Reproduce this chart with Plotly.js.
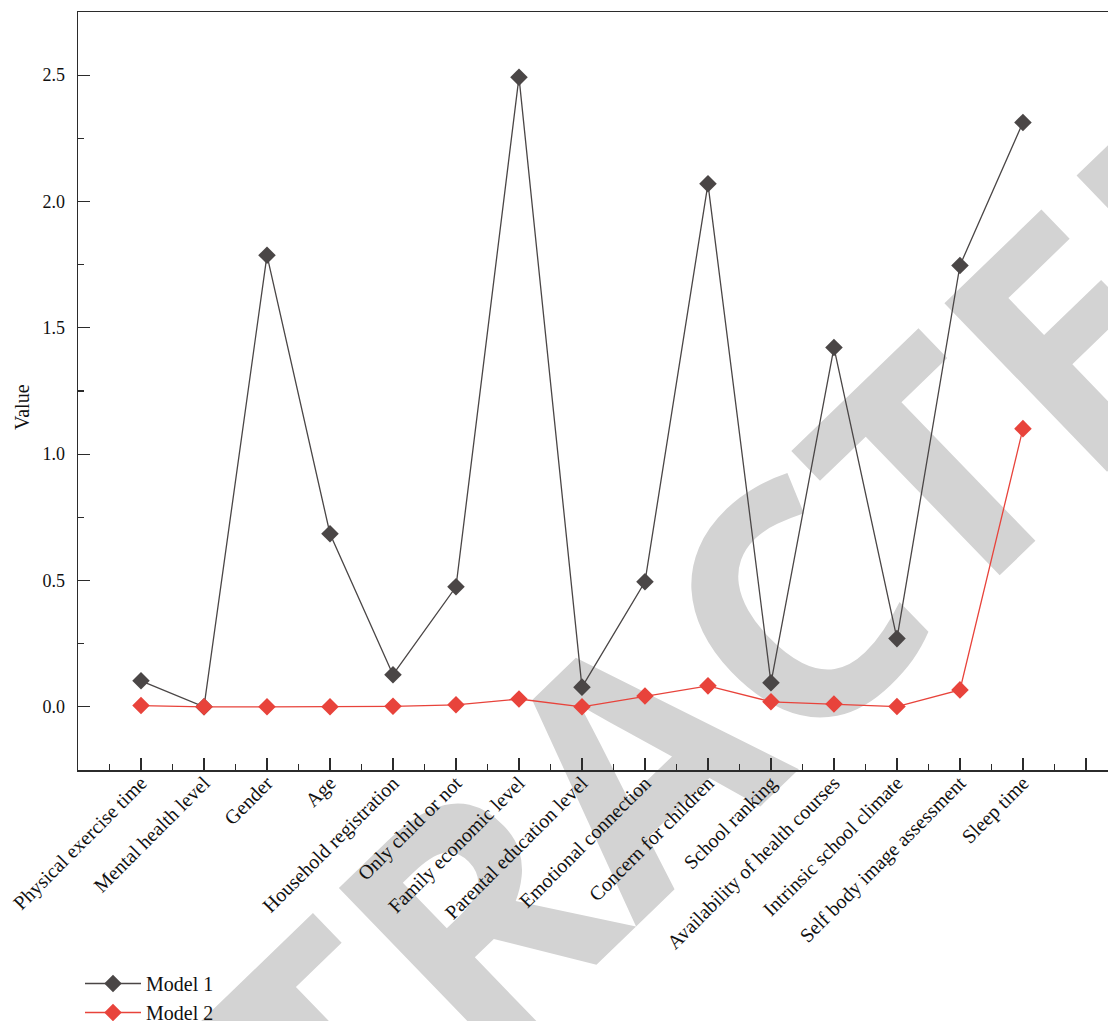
<!DOCTYPE html>
<html>
<head>
<meta charset="utf-8">
<script src="https://cdn.plot.ly/plotly-3.0.1.min.js"></script>
<style>
  html, body { margin: 0; padding: 0; background: #ffffff; }
  #wrap { position: relative; width: 1108px; height: 1021px; overflow: hidden; background: #ffffff; }
  #wm {
    position: absolute; left: 636px; top: 750px;
    transform: translate(-50%, -50%) rotate(-44deg);
    font-family: "Open Sans", "Liberation Sans", sans-serif; font-weight: 700;
    font-size: 328px; line-height: 1; color: #d3d3d3; white-space: nowrap;
    z-index: 0; user-select: none;
  }
  #chart { position: absolute; left: 0; top: 0; width: 1108px; height: 1021px; z-index: 1; }
</style>
</head>
<body>
<div id="wrap">
  <div id="wm">RETRACTED</div>
  <div id="chart"></div>
</div>
<script>
const categories = [
  "Physical exercise time", "Mental health level", "Gender", "Age",
  "Household registration", "Only child or not", "Family economic level",
  "Parental education level", "Emotional connection", "Concern for children",
  "School ranking", "Availability of health courses", "Intrinsic school climate",
  "Self body image assessment", "Sleep time"
];
const model1 = [0.103, 0.0, 1.787, 0.685, 0.127, 0.475, 2.492, 0.078, 0.495, 2.070, 0.095, 1.422, 0.270, 1.747, 2.313];
const model2 = [0.005, 0.0, 0.0, 0.0, 0.002, 0.008, 0.031, 0.0, 0.043, 0.083, 0.020, 0.011, 0.001, 0.067, 1.101];
const yTickVals = [0, 0.5, 1.0, 1.5, 2.0, 2.5];
const yTickText = ["0.0", "0.5", "1.0", "1.5", "2.0", "2.5"];
const yTitle = "Value";

const idx = categories.map((_, i) => i);
const xTickVals = idx.concat([categories.length]);
const xTickText = categories.concat([""]);
const xMinor = [];
for (let i = -1; i <= categories.length; i++) xMinor.push(i + 0.5);

const serif = "Liberation Serif, Times New Roman, serif";
const axisColor = "#2b2b2b";

const traces = [
  {
    name: "Model 1", x: idx, y: model1, type: "scatter", mode: "lines+markers",
    line: { color: "#4a4646", width: 1.3 },
    marker: { symbol: "diamond", size: 13.5, color: "#4a4646" }
  },
  {
    name: "Model 2", x: idx, y: model2, type: "scatter", mode: "lines+markers",
    line: { color: "#e8433b", width: 1.3 },
    marker: { symbol: "diamond", size: 13.5, color: "#e8433b" }
  }
];

const layout = {
  width: 1108, height: 1021,
  margin: { l: 78, r: 0, t: 12, b: 251, autoexpand: false },
  paper_bgcolor: "rgba(0,0,0,0)", plot_bgcolor: "rgba(0,0,0,0)",
  font: { family: serif, size: 18, color: "#111" },
  showlegend: true,
  legend: {
    xref: "container", yref: "container",
    x: 80 / 1108, y: 1 - 964 / 1021, xanchor: "left", yanchor: "top",
    bgcolor: "rgba(0,0,0,0)", borderwidth: 0,
    font: { family: serif, size: 20, color: "#111" },
    itemwidth: 56, tracegroupgap: 0
  },
  annotations: [
    {
      text: yTitle, xref: "paper", yref: "paper",
      x: (22 - 78) / 1030, y: (770 - 407) / 758,
      xanchor: "center", yanchor: "middle", textangle: -90, showarrow: false,
      font: { family: serif, size: 20, color: "#111" }
    }
  ],
  xaxis: {
    automargin: false,
    range: [-1, 15.35], showgrid: false, zeroline: false,
    showline: true, linecolor: axisColor, linewidth: 1.5, mirror: true,
    ticks: "inside", ticklen: 12, tickwidth: 1.3, tickcolor: axisColor,
    tickmode: "array", tickvals: xTickVals, ticktext: xTickText,
    tickangle: -45, tickfont: { family: serif, size: 20, color: "#111" },
    ticklabelstandoff: -8,
    minor: { tickmode: "array", tickvals: xMinor, ticks: "inside", ticklen: 6, tickwidth: 1.3, tickcolor: axisColor, showgrid: false }
  },
  yaxis: {
    automargin: false,
    range: [-0.25, 2.75], showgrid: false, zeroline: false,
    showline: true, linecolor: axisColor, linewidth: 1.5, mirror: false,
    ticks: "inside", ticklen: 12, tickwidth: 1.3, tickcolor: axisColor,
    tickmode: "array", tickvals: yTickVals, ticktext: yTickText,
    tickfont: { family: serif, size: 18, color: "#111" },
    ticklabelstandoff: 8,
    minor: { tickmode: "array", tickvals: [0.25, 0.75, 1.25, 1.75, 2.25], ticks: "inside", ticklen: 6, tickwidth: 1.3, tickcolor: axisColor, showgrid: false }
  }
};

Plotly.newPlot("chart", traces, layout, { displayModeBar: false, staticPlot: true });
</script>
</body>
</html>
